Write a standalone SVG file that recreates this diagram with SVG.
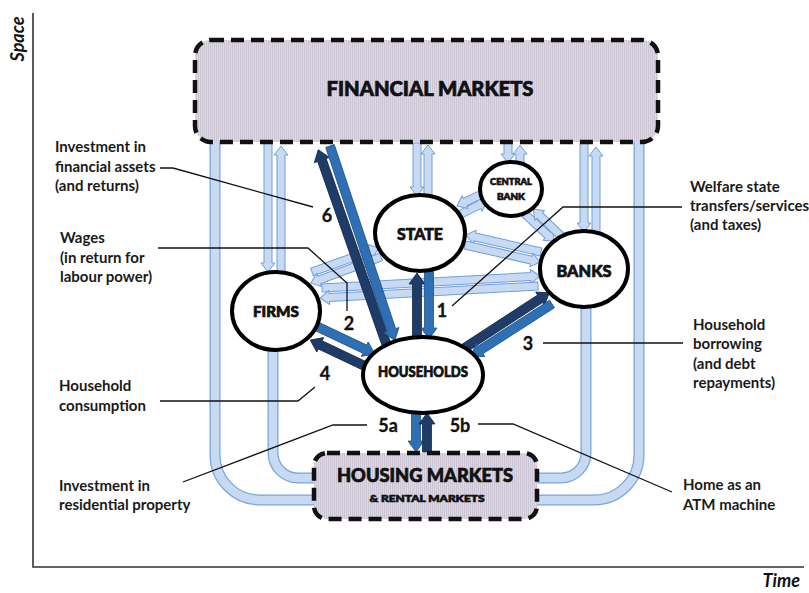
<svg xmlns="http://www.w3.org/2000/svg" width="809" height="593" viewBox="0 0 809 593">
  <defs>
    <pattern id="grain" width="2" height="2" patternUnits="userSpaceOnUse">
      <rect width="2" height="2" fill="#ddd8e4"/>
      <rect width="1" height="2" fill="#cbc5d4"/>
    </pattern>
    <style>
      .axis { stroke: #333; stroke-width: 1.6; fill: none; }
      .market { fill: url(#grain); stroke: #111; stroke-width: 4.5; stroke-dasharray: 13 7; }
      .node { fill: #fff; stroke: #000; stroke-width: 4; }
      .pipe-edge { fill: none; stroke: #78a5de; stroke-width: 11; }
      .pipe-core { fill: none; stroke: #c7daf2; stroke-width: 8.5; }
      .lb { fill: #c7daf2; stroke: #6f9fdc; stroke-width: 1; stroke-linejoin: round; }
      .nv { fill: #1f3c69; stroke: #142948; stroke-width: 0.8; }
      .md { fill: #2f70b5; stroke: #1f5088; stroke-width: 0.8; }
      .lead { fill: none; stroke: #111; stroke-width: 1.3; }
      .title { font-family: Lato, "Open Sans", sans-serif; font-weight: 900; fill: #111; stroke: #111; stroke-width: 0.7; text-anchor: middle; }
      .num { font-family: Lato, "Open Sans", sans-serif; font-weight: bold; font-size: 18px; fill: #111; stroke: #111; stroke-width: 0.3; text-anchor: middle; }
      .note { font-family: Lato, "Open Sans", sans-serif; font-weight: bold; font-size: 15px; fill: #1a1a1a; }
      .axlabel { font-family: Lato, "Open Sans", sans-serif; font-weight: bold; font-style: italic; font-size: 18px; fill: #111; }
    </style>
  </defs>

  <rect width="809" height="593" fill="#fff"/>

  <!-- axes -->
  <g id="axes">
    <path class="axis" d="M33,13 V567 H804"/>
    <text class="axlabel" transform="translate(24,39) rotate(-90)" text-anchor="middle">Space</text>
    <text class="axlabel" x="800" y="587" text-anchor="end">Time</text>
  </g>

  <!-- flows between the sectors -->
  <g id="connectors">
    <!-- housing market loops -->
    <g id="pipes">
      <path class="pipe-edge" d="M215,140 V455 A45,45 0 0 0 260,500 H316"/>
      <path class="pipe-core" d="M215,140 V455 A45,45 0 0 0 260,500 H316"/>
      <path class="pipe-edge" d="M273,345 V453 A25,25 0 0 0 298,478 H316"/>
      <path class="pipe-core" d="M273,345 V453 A25,25 0 0 0 298,478 H316"/>
      <path class="pipe-edge" d="M535,478 H561 A25,25 0 0 0 586,453 V305"/>
      <path class="pipe-core" d="M535,478 H561 A25,25 0 0 0 586,453 V305"/>
      <path class="pipe-edge" d="M535,500 H594 A45,45 0 0 0 639,455 V140"/>
      <path class="pipe-core" d="M535,500 H594 A45,45 0 0 0 639,455 V140"/>
    </g>

    <!-- institutional flows (outline arrows) -->
    <g id="institutional-flows">
      <path class="lb" d="M0,-4H120V-7L129,0L120,7V4H0Z" transform="translate(268,143) rotate(90)"/>
      <path class="lb" d="M0,-4H117V-7L126,0L117,7V4H0Z" transform="translate(281,272) rotate(-90)"/>
      <path class="lb" d="M0,-4H44V-7L53,0L44,7V4H0Z" transform="translate(417,143) rotate(90)"/>
      <path class="lb" d="M0,-4H42V-7L51,0L42,7V4H0Z" transform="translate(428,196) rotate(-90)"/>
      <path class="lb" d="M0,-4H11V-7L20,0L11,7V4H0Z" transform="translate(508,143) rotate(90)"/>
      <path class="lb" d="M0,-4H10V-7L19,0L10,7V4H0Z" transform="translate(520,164) rotate(-90)"/>
      <path class="lb" d="M0,-4H80V-7L89,0L80,7V4H0Z" transform="translate(584,143) rotate(90)"/>
      <path class="lb" d="M0,-4H77V-7L86,0L77,7V4H0Z" transform="translate(596,233) rotate(-90)"/>
      <!-- state / central bank -->
      <path class="lb" d="M0,-4H20V-7L29,0L20,7V4H0Z" transform="translate(461,214) rotate(-26.6)"/>
      <path class="lb" d="M0,-4H21V-7L30,0L21,7V4H0Z" transform="translate(484,193) rotate(154.3)"/>
      <!-- central bank / banks -->
      <path class="lb" d="M0,-4H31V-7L40,0L31,7V4H0Z" transform="translate(525,214) rotate(43)"/>
      <path class="lb" d="M0,-4H31V-7L40,0L31,7V4H0Z" transform="translate(562,237) rotate(-136)"/>
      <!-- state / banks -->
      <path class="lb" d="M0,-4H68V-7L77,0L68,7V4H0Z" transform="translate(541,252) rotate(-167.2)"/>
      <path class="lb" d="M0,-4H68V-7L77,0L68,7V4H0Z" transform="translate(465,245) rotate(12.8)"/>
      <!-- state / firms -->
      <path class="lb" d="M0,-4H62V-7L71,0L62,7V4H0Z" transform="translate(312,272) rotate(-19.7)"/>
      <path class="lb" d="M0,-4H66V-7L75,0L66,7V4H0Z" transform="translate(381,257) rotate(159.6)"/>
      <!-- banks / firms -->
      <path class="lb" d="M0,-4H209V-7L218,0L209,7V4H0Z" transform="translate(322,288) rotate(-3.15)"/>
      <path class="lb" d="M0,-4H209V-7L218,0L209,7V4H0Z" transform="translate(538,286) rotate(176.85)"/>
    </g>

    <!-- household flows (solid arrows) -->
    <g id="household-flows">
      <path class="nv" d="M0,-4.5H197V-8L208,0L197,8V4.5H0Z" transform="translate(387,346) rotate(-109.3)"/>
      <path class="md" d="M0,-4.5H194V-8L205,0L194,8V4.5H0Z" transform="translate(330,146) rotate(71.57)"/>
      <path class="nv" d="M0,-4.5H56V-8L67,0L56,8V4.5H0Z" transform="translate(417,340) rotate(-90)"/>
      <path class="md" d="M0,-4.5H58V-8L69,0L58,8V4.5H0Z" transform="translate(429,270) rotate(90)"/>
      <path class="nv" d="M0,-4.5H92V-8L103,0L92,8V4.5H0Z" transform="translate(463,349) rotate(-33.07)"/>
      <path class="md" d="M0,-4.5H85V-8L96,0L85,8V4.5H0Z" transform="translate(552,304) rotate(147.3)"/>
      <path class="md" d="M0,-4.5H54V-8L65,0L54,8V4.5H0Z" transform="translate(316,326) rotate(25.4)"/>
      <path class="nv" d="M0,-4.5H54V-8L65,0L54,8V4.5H0Z" transform="translate(369,368) rotate(-154.6)"/>
      <path class="md" d="M0,-4.5H31V-8L42,0L31,8V4.5H0Z" transform="translate(416,410) rotate(90)"/>
      <path class="nv" d="M0,-4.5H28V-8L39,0L28,8V4.5H0Z" transform="translate(427,452) rotate(-90)"/>
    </g>
  </g>

  <!-- sectors -->
  <g id="financial-markets">
    <rect class="market" x="195" y="40" width="463" height="102" rx="16"/>
    <text class="title" x="430" y="96" font-size="20" textLength="207" lengthAdjust="spacingAndGlyphs">FINANCIAL MARKETS</text>
  </g>
  <g id="housing-markets">
    <rect class="market" x="314" y="453" width="223" height="66" rx="13"/>
    <text class="title" x="425" y="482" font-size="18.5" textLength="176" lengthAdjust="spacingAndGlyphs">HOUSING MARKETS</text>
    <text class="title" x="427" y="502" font-size="10" stroke-width="0.4" textLength="115" lengthAdjust="spacingAndGlyphs">&amp; RENTAL MARKETS</text>
  </g>
  <g id="state">
    <ellipse class="node" cx="420" cy="233" rx="45" ry="38"/>
    <text class="title" x="420" y="240" font-size="16" textLength="46" lengthAdjust="spacingAndGlyphs">STATE</text>
  </g>
  <g id="central-bank">
    <ellipse class="node" cx="511" cy="189" rx="31" ry="27" stroke-width="3.5"/>
    <text class="title" x="511" y="185" font-size="9.5" stroke-width="0.4" textLength="42" lengthAdjust="spacingAndGlyphs">CENTRAL</text>
    <text class="title" x="511" y="200" font-size="9.5" stroke-width="0.4" textLength="28" lengthAdjust="spacingAndGlyphs">BANK</text>
  </g>
  <g id="banks">
    <ellipse class="node" cx="584" cy="269" rx="44" ry="38"/>
    <text class="title" x="584" y="277" font-size="16" textLength="55" lengthAdjust="spacingAndGlyphs">BANKS</text>
  </g>
  <g id="firms">
    <ellipse class="node" cx="276" cy="311" rx="44" ry="39"/>
    <text class="title" x="276" y="317" font-size="15" textLength="46" lengthAdjust="spacingAndGlyphs">FIRMS</text>
  </g>
  <g id="households">
    <ellipse class="node" cx="423" cy="375" rx="60" ry="38"/>
    <text class="title" x="423" y="377" font-size="14.5" stroke-width="0.5" textLength="90" lengthAdjust="spacingAndGlyphs">HOUSEHOLDS</text>
  </g>

  <!-- numbered flow callouts -->
  <g id="callouts">
    <path class="lead" d="M160,168 H173 L313,207"/>
    <path class="lead" d="M158,248 H308 L347,283 V311"/>
    <path class="lead" d="M682,207 H563 L452,306"/>
    <path class="lead" d="M683,343 H543"/>
    <path class="lead" d="M160,401 H298 L315,387"/>
    <path class="lead" d="M183,482 L333,425 H367"/>
    <path class="lead" d="M478,424 H513 L672,492"/>

    <text class="num" x="327" y="222">6</text>
    <text class="num" x="349" y="330">2</text>
    <text class="num" x="442" y="317">1</text>
    <text class="num" x="528" y="350">3</text>
    <text class="num" x="325" y="380">4</text>
    <text class="num" x="388" y="432">5a</text>
    <text class="num" x="460" y="432">5b</text>

    <text class="note" x="55" y="152">Investment in</text>
    <text class="note" x="55" y="172">financial assets</text>
    <text class="note" x="55" y="191">(and returns)</text>

    <text class="note" x="60" y="243">Wages</text>
    <text class="note" x="60" y="263">(in return for</text>
    <text class="note" x="60" y="282">labour power)</text>

    <text class="note" x="690" y="192">Welfare state</text>
    <text class="note" x="690" y="211">transfers/services</text>
    <text class="note" x="690" y="230">(and taxes)</text>

    <text class="note" x="693" y="330">Household</text>
    <text class="note" x="693" y="349">borrowing</text>
    <text class="note" x="693" y="369">(and debt</text>
    <text class="note" x="693" y="388">repayments)</text>

    <text class="note" x="59" y="391">Household</text>
    <text class="note" x="59" y="411">consumption</text>

    <text class="note" x="59" y="491">Investment in</text>
    <text class="note" x="59" y="510">residential property</text>

    <text class="note" x="683" y="490">Home as an</text>
    <text class="note" x="683" y="510">ATM machine</text>
  </g>
</svg>
